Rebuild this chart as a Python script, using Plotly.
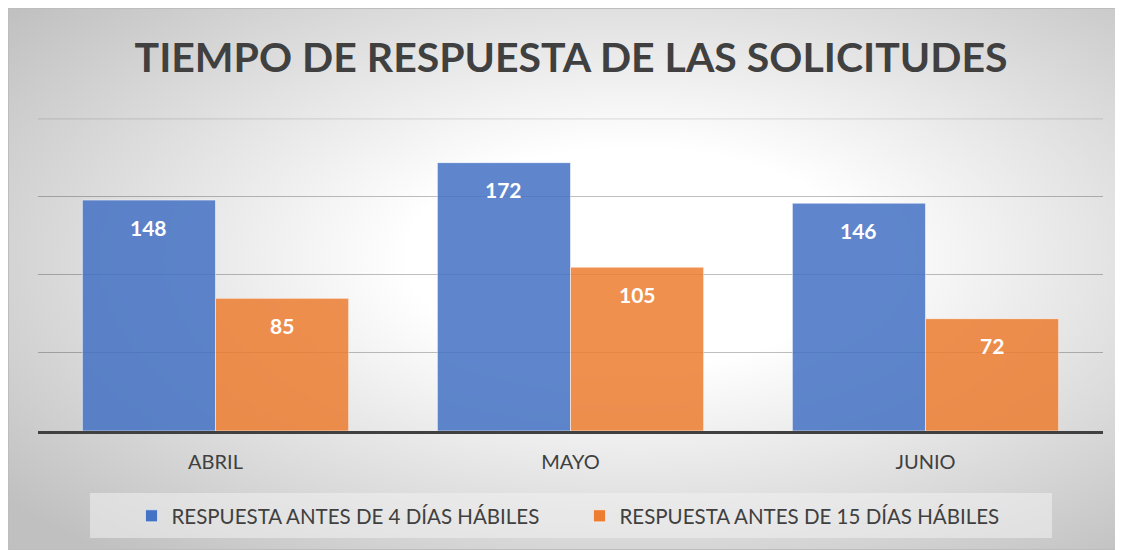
import base64
import plotly.graph_objects as go

# ---- data ----
categories = ["ABRIL", "MAYO", "JUNIO"]
series_names = ["RESPUESTA ANTES DE 4 DÍAS HÁBILES", "RESPUESTA ANTES DE 15 DÍAS HÁBILES"]
values_4_dias = [148, 172, 146]
values_15_dias = [85, 105, 72]
title_text = "TIEMPO DE RESPUESTA DE LAS SOLICITUDES"
y_grid_ticks = [50, 100, 150]
y_top_tick = 200

# ---- style ----
OFF = 8  # page body margin
W, H = 1123 - OFF, 550 - OFF
colors = ["#4472C4", "#ED7D31"]
FONT = "Lato"
TXT = "#404040"
BARGAP = 0.25

# plot area in figure pixels (page pixels - OFF)
PL, PR, PT, PB = 38 - OFF, 1103 - OFF, 118 - OFF, 431 - OFF
pw, ph = PR - PL, PB - PT

def px_to_paper_x(px):
    return (px - OFF - PL) / pw

def py_to_paper_y(py):
    return (PB - (py - OFF)) / ph

fig = go.Figure()
all_series = [values_4_dias, values_15_dias]
for name, vals, col in zip(series_names, all_series, colors):
    fig.add_trace(go.Bar(
        x=categories, y=vals, name=name,
        marker=dict(color=col, opacity=0.85,
                    line=dict(color="rgba(255,255,255,0.55)", width=1)),
        hoverinfo="skip",
    ))

# data labels (white, inside near top)
n = len(all_series)
bw = (1 - BARGAP) / n
for j, vals in enumerate(all_series):
    for i, v in enumerate(vals):
        fig.add_annotation(
            x=i + (j - (n - 1) / 2) * bw, y=v, xref="x", yref="y",
            text=f"<b>{v}</b>", showarrow=False, yanchor="middle", yshift=-27,
            font=dict(family=FONT, size=21, color="white"),
        )

# background: radial gradient as svg image covering the whole figure
svg = (
    f'<svg xmlns="http://www.w3.org/2000/svg" width="{W}" height="{H}" '
    f'viewBox="0 0 {W} {H}" preserveAspectRatio="none">'
    '<defs><radialGradient id="g" cx="0.56" cy="0.46" r="0.72">'
    '<stop offset="0.28" stop-color="#ffffff"/>'
    '<stop offset="1" stop-color="#c0c0c0"/>'
    '</radialGradient></defs>'
    f'<rect width="{W}" height="{H}" fill="url(#g)"/>'
    f'<rect x="0.5" y="0.5" width="{W-1}" height="{H-1}" fill="none" stroke="#bdbdbd"/>'
    '</svg>'
)
src = "data:image/svg+xml;base64," + base64.b64encode(svg.encode()).decode()
fig.add_layout_image(
    source=src, xref="paper", yref="paper",
    x=-PL / pw, y=(PB) / ph,
    sizex=W / pw, sizey=H / ph,
    xanchor="left", yanchor="top", sizing="stretch", layer="below",
)

# legend box
fig.add_shape(
    type="rect", xref="paper", yref="paper",
    x0=px_to_paper_x(90), x1=px_to_paper_x(1052),
    y0=py_to_paper_y(538), y1=py_to_paper_y(493),
    fillcolor="rgba(241,241,241,0.56)", line=dict(width=0), layer="below",
)

# faint top gridline
fig.add_shape(
    type="line", xref="paper", yref="y", x0=0, x1=1, y0=y_top_tick, y1=y_top_tick,
    line=dict(color="rgba(0,0,0,0.1)", width=1.2), layer="below",
)

fig.update_layout(
    width=W, height=H,
    margin=dict(l=PL, r=W - PR, t=PT, b=H - PB, pad=0),
    paper_bgcolor="white", plot_bgcolor="rgba(0,0,0,0)",
    barmode="group", bargap=BARGAP, bargroupgap=0,
    title=dict(text=f"<b>{title_text}</b>", x=(571 - OFF) / W, xref="container", xanchor="center",
               y=1 - (58 - OFF) / H, yref="container", yanchor="middle",
               font=dict(family=FONT, size=41, color=TXT)),
    font=dict(family=FONT, color=TXT),
    showlegend=True,
    legend=dict(orientation="h", x=0.5 + 9 / pw, xanchor="center", xref="paper",
                y=py_to_paper_y(516), yanchor="middle",
                bgcolor="rgba(0,0,0,0)", font=dict(family=FONT, size=20.5, color=TXT),
                entrywidth=403, itemwidth=30, traceorder="normal"),
    xaxis=dict(showgrid=False, showline=True, linecolor="#404040", linewidth=3,
               ticks="", tickfont=dict(family=FONT, size=20, color=TXT),
               ticklabelstandoff=11, fixedrange=True),
    yaxis=dict(range=[0, 200.6], tickmode="array", tickvals=y_grid_ticks, showticklabels=False,
               showgrid=True, gridcolor="rgba(0,0,0,0.25)", gridwidth=1.2,
               zeroline=False, showline=False, fixedrange=True),
)

fig.write_html("out.html")
